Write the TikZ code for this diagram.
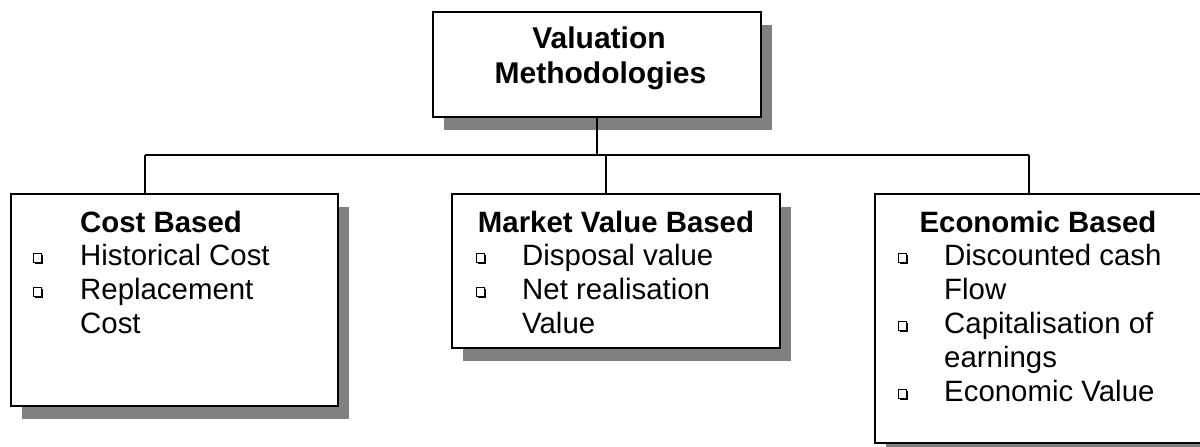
\documentclass[tikz,border=0pt]{standalone}
\usepackage{fontspec}
\setmainfont{Liberation Sans}
\usetikzlibrary{shadows}
\definecolor{shadowgray}{HTML}{808080}
\begin{document}
\begin{tikzpicture}[x=1pt,y=-1pt,
  box/.style={draw=black, line width=2pt, fill=white, rectangle, inner sep=0pt,
    drop shadow={shadow xshift=11pt, shadow yshift=-13pt, fill=shadowgray, opacity=1}},
  link/.style={draw=black, line width=2pt},
  title/.style={font=\fontsize{30}{34}\selectfont\bfseries, anchor=base, inner sep=0pt},
  head/.style={font=\fontsize{29.4}{33.5}\selectfont\bfseries, inner sep=0pt},
  item/.style={font=\fontsize{29.4}{33.5}\selectfont, anchor=base west, inner sep=0pt},
  bullet/.pic={
    \fill[black] (1.8,0) rectangle (10.2,-8.6);
    \draw[black, fill=white, line width=0.9pt] (0,-1.8) rectangle (8.4,-10.2);
  }]
\useasboundingbox (0,0) rectangle (1200,447);
\clip (0,0) rectangle (1200,447);

% boxes
\node[box, minimum width=328, minimum height=105] (top) at (597,64.5) {};
\node[box, minimum width=327, minimum height=212] (cost) at (174.5,299.5) {};
\node[box, minimum width=328, minimum height=154] (market) at (616,271) {};
\node[box, minimum width=340, minimum height=249] (econ) at (1045,318.5) {};

% connectors
\coordinate (busL) at (145,155);
\coordinate (busM) at (606,155);
\coordinate (busR) at (1029,155);
\draw[link] (busL) -- (busR);
\draw[link] (top.south) -- (top.south |- busL);
\draw[link] (busL) -- (busL |- cost.north);
\draw[link] (busM) -- (busM |- market.north);
\draw[link] (busR) -- (busR |- econ.north);

% title
\node[title] (t1) at (599,48) {Valuation};
\node[title] (t2) at (600.5,83) {Methodologies};

% cost based
\node[head, anchor=base west] (ch) at (80,232) {Cost Based};
\pic at (33,264) {bullet};
\node[item] (c1) at (80,265) {Historical Cost};
\pic at (33,298) {bullet};
\node[item] (c2) at (80,299) {Replacement};
\node[item] (c3) at (80,333) {Cost};

% market value based
\node[head, anchor=base] (mh) at (616,232) {Market Value Based};
\pic at (476,264) {bullet};
\node[item] (m1) at (522,265) {Disposal value};
\pic at (476,298) {bullet};
\node[item] (m2) at (522,299) {Net realisation};
\node[item] (m3) at (522,333) {Value};

% economic based
\node[head, anchor=base] (eh) at (1038,232) {Economic Based};
\pic at (898,264) {bullet};
\node[item] (e1) at (944,265) {Discounted cash};
\node[item] (e2) at (944,299) {Flow};
\pic at (898,332) {bullet};
\node[item] (e3) at (944,333) {Capitalisation of};
\node[item] (e4) at (944,367) {earnings};
\pic at (898,400) {bullet};
\node[item] (e5) at (944,401) {Economic Value};
\end{tikzpicture}
\end{document}
